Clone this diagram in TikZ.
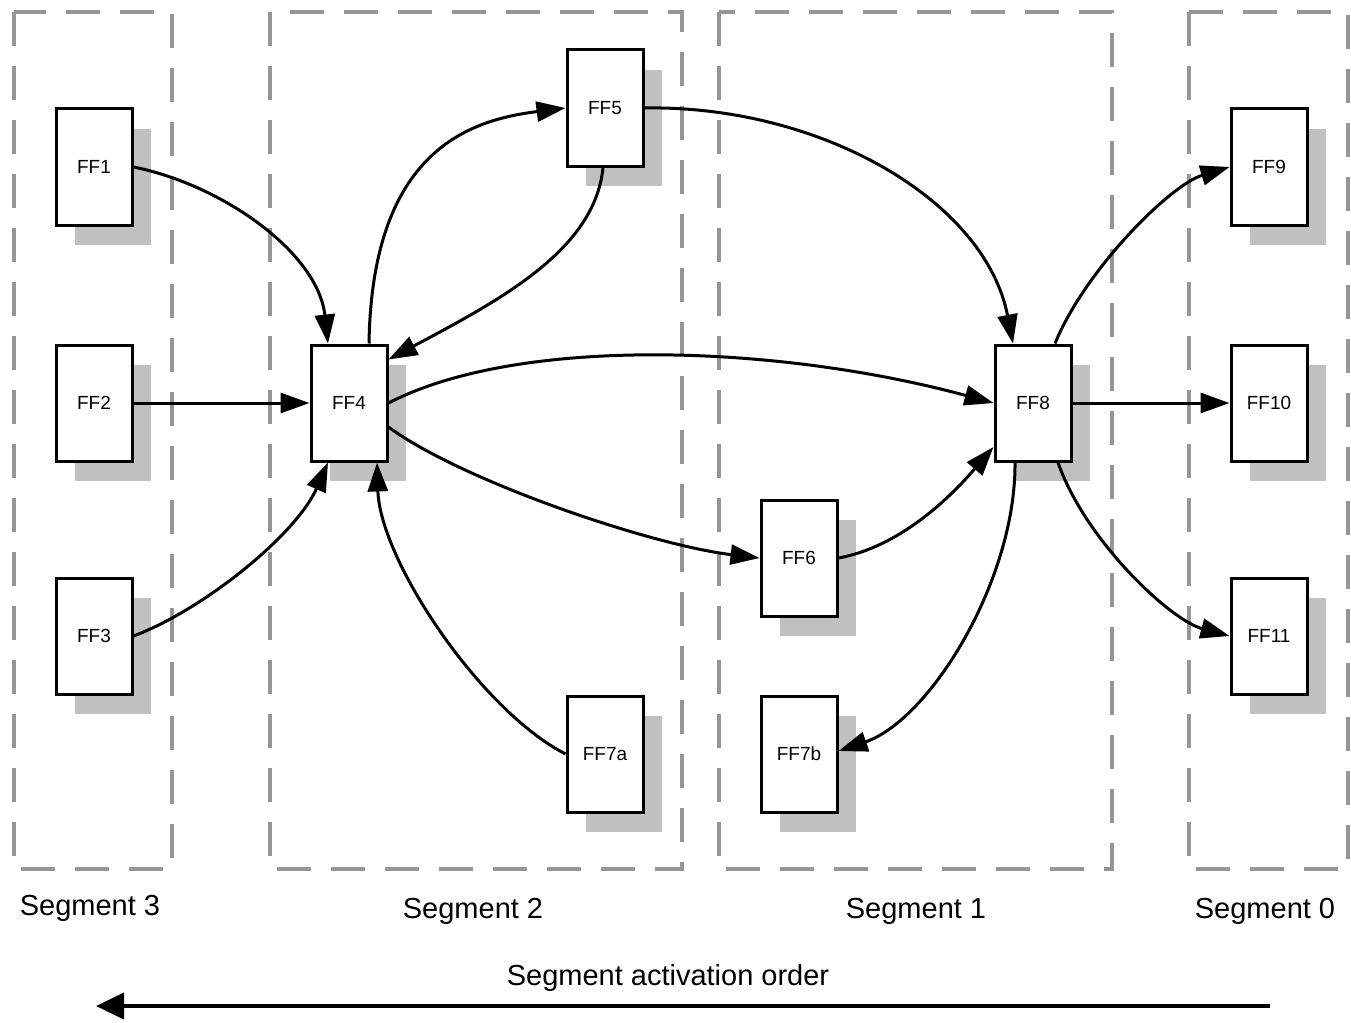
\documentclass[tikz,border=0pt]{standalone}
\usepackage{fontspec}
\setmainfont{Liberation Sans}
\usetikzlibrary{arrows.meta,shadows,calc}
\definecolor{seggray}{RGB}{150,150,150}
\definecolor{shadowgray}{RGB}{192,192,192}
\begin{document}
\begin{tikzpicture}[x=1pt,y=-1pt,
  ff/.style={draw=black, line width=3pt, fill=white,
    minimum width=76pt, minimum height=116pt, inner sep=0pt,
    font=\fontsize{19}{21}\selectfont,
    general shadow={fill=shadowgray, shadow xshift=19pt, shadow yshift=-20pt}},
  seg/.style={draw=seggray, line width=4.5pt, dash pattern=on 34pt off 20pt},
  wire/.style={line width=3pt, -{Triangle[length=29pt,width=20pt]}},
  seglabel/.style={font=\fontsize{29}{33}\selectfont, inner sep=0pt, anchor=base}]

\useasboundingbox (0,0) rectangle (1351,1022);

% segment frames
\draw[seg] (14,12) rectangle (172,869);
\draw[seg] (270,12) rectangle (682,869);
\draw[seg] (719,12) rectangle (1112,869);
\draw[seg] (1189,12) rectangle (1348,869);

% flip-flops
\node[ff] (ff1)  at (94,167)   {FF1};
\node[ff] (ff2)  at (94,403)   {FF2};
\node[ff] (ff3)  at (94,636)   {FF3};
\node[ff] (ff4)  at (349,403)  {FF4};
\node[ff] (ff5)  at (605,108)  {FF5};
\node[ff] (ff6)  at (799,558)  {FF6};
\node[ff] (ff7a) at (605,754)  {FF7a};
\node[ff] (ff7b) at (799,754)  {FF7b};
\node[ff] (ff8)  at (1033,403) {FF8};
\node[ff] (ff9)  at (1269,167) {FF9};
\node[ff] (ff10) at (1269,403) {FF10};
\node[ff] (ff11) at (1269,636) {FF11};

% connections
\draw[wire] (ff1.east) .. controls (223,185) and (318,253) .. ([xshift=-21pt]ff4.north);
\draw[wire] (ff2.east) -- (ff4.west);
\draw[wire] (ff3.east) .. controls (203,610) and (296,535) .. ([xshift=-21pt]ff4.south);
\draw[wire] ([xshift=20pt]ff4.north) .. controls (372,150) and (470,120) .. (ff5.west);
\draw[wire] ([xshift=-2pt]ff5.south) .. controls (595,250) and (500,300) .. ([yshift=-16pt]ff4.north east);
\draw[wire] (ff4.east) .. controls (520,335) and (780,345) .. (ff8.west);
\draw[wire] ([yshift=-24pt]ff4.east) .. controls (460,480) and (650,545) .. (ff6.west);
\draw[wire] (ff7a.west) .. controls (480,710) and (380,560) .. ([xshift=28pt]ff4.south);
\draw[wire] (ff5.east) .. controls (820,105) and (985,200) .. ([xshift=-20pt]ff8.north);
\draw[wire] (ff6.east) .. controls (910,545) and (965,480) .. ([yshift=-44pt]ff8.west);
\draw[wire] ([xshift=-18pt]ff8.south) .. controls (1016,580) and (930,720) .. ([yshift=3pt]ff7b.east);
\draw[wire] ([xshift=22pt]ff8.north) .. controls (1085,270) and (1170,185) .. (ff9.west);
\draw[wire] (ff8.east) -- (ff10.west);
\draw[wire] ([xshift=25pt]ff8.south) .. controls (1085,540) and (1170,620) .. (ff11.west);

% segment names
\node[seglabel] (s3) at (90,915)   {Segment 3};
\node[seglabel] (s2) at (473,918)  {Segment 2};
\node[seglabel] (s1) at (916,918)  {Segment 1};
\node[seglabel] (s0) at (1265,918) {Segment 0};

% activation order
\node[seglabel] (order) at (668,985) {Segment activation order};
\coordinate (ordA) at (1270,1006);
\coordinate (ordB) at (96,1006);
\draw[line width=4pt, -{Triangle[length=28pt,width=26pt]}] (ordA) -- (ordB);
\end{tikzpicture}
\end{document}
